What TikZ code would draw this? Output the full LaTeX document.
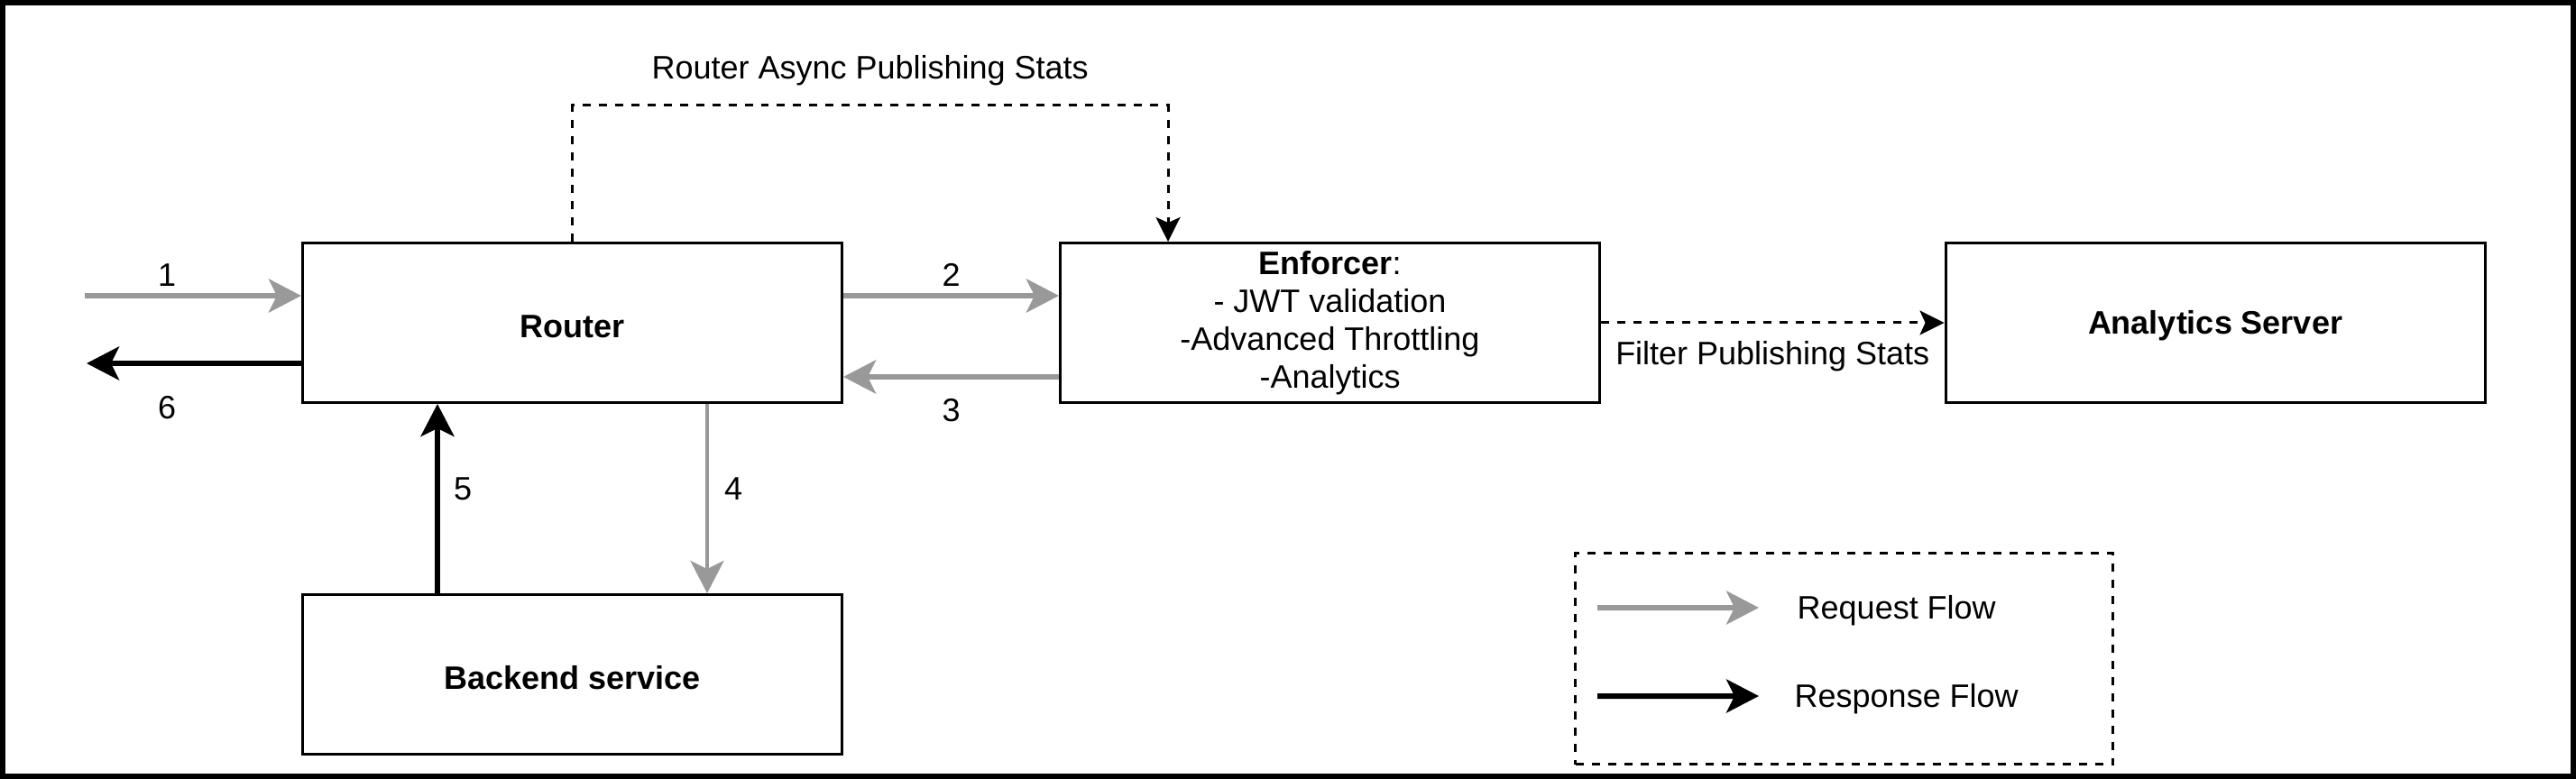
\documentclass[tikz,border=0pt]{standalone}
\usepackage{fontspec}
\setmainfont{Liberation Sans}
\usepackage{tikz}
\usetikzlibrary{arrows.meta,positioning,calc}
\definecolor{reqGray}{HTML}{999999}

\begin{document}
\begin{tikzpicture}[font=\fontsize{10.24}{11.95}\selectfont,
  box/.style={draw, line width=0.03cm, minimum width=5.98cm, minimum height=1.77cm, align=center, inner ysep=0.02cm},
  onebox/.style={box, text height=0.33cm},
  req/.style={reqGray, line width=0.06cm, -{Stealth[length=0.36cm, width=0.37cm, inset=0.09cm]}},
  resp/.style={black, line width=0.06cm, -{Stealth[length=0.36cm, width=0.37cm, inset=0.09cm]}},
  async/.style={line width=0.03cm, dash pattern=on 0.09cm off 0.09cm, -{Stealth[length=0.27cm, width=0.27cm, inset=0.06cm]}},
  legendbox/.style={draw, line width=0.03cm, dash pattern=on 0.09cm off 0.09cm, minimum width=5.96cm, minimum height=2.34cm},
  num/.style={text=black, inner sep=0pt}]
  \useasboundingbox (0,0) rectangle (28.56,-8.64);
  \draw[line width=0.06cm] (0.03,-0.03) rectangle (28.53,-8.61);
  % boxes
  \node[onebox] (router) at (6.345,-3.58) {\textbf{Router}};
  \node[box, right=2.39cm of router] (enforcer) {\textbf{Enforcer}:\\- JWT validation\\-Advanced Throttling\\-Analytics};
  \node[onebox, right=3.805cm of enforcer] (analytics) {\textbf{Analytics Server}};
  \node[onebox, below=2.10cm of router] (backend) {\textbf{Backend service}};
  % client side: 1 in, 6 out
  \coordinate (client1) at (0.94,-3.28);
  \coordinate (client6) at (0.96,-4.03);
  \draw[req] (client1) -- node[num, pos=0.38, yshift=0.23cm] {1} (client1 -| router.west);
  \draw[resp] (client6 -| router.west) -- node[num, pos=0.626, yshift=-0.49cm] {6} (client6);
  % router <-> enforcer: 2, 3
  \draw[req] ($(router.east)+(0,0.30)$) -- node[num, yshift=0.23cm] {2} ($(enforcer.west)+(0,0.30)$);
  \draw[req] ($(enforcer.west)+(0,-0.60)$) -- node[num, yshift=-0.37cm] {3} ($(router.east)+(0,-0.60)$);
  % router <-> backend: 4, 5
  \draw[req, line width=0.04cm] ($(router.south)+(1.495,0)$) -- node[num, pos=0.45, xshift=0.29cm] {4} ($(backend.north)+(1.495,0)$);
  \draw[resp] ($(backend.north)+(-1.495,0)$) -- node[num, pos=0.55, xshift=0.28cm] {5} ($(router.south)+(-1.495,0)$);
  % stats publishing
  \draw[async] (router.north) -- ++(0,1.51) -| node[num, pos=0.25, yshift=0.39cm] {Router Async Publishing Stats} ($(enforcer.north)+(-1.795,0)$);
  \draw[async] (enforcer.east) -- node[num, yshift=-0.37cm] {Filter Publishing Stats} (analytics.west);
  % legend
  \node[legendbox] (legend) at (20.445,-7.305) {};
  \node[anchor=west, inner sep=0pt] (reqlabel) at (19.92,-6.77) {Request Flow};
  \node[anchor=west, inner sep=0pt] (resplabel) at (19.89,-7.75) {Response Flow};
  \draw[req] ($(legend.west)+(0.26,0.565)$) -- ($(reqlabel.west)+(-0.42,0.03)$);
  \draw[resp] ($(legend.west)+(0.26,-0.415)$) -- ($(resplabel.west)+(-0.39,0.03)$);
\end{tikzpicture}
\end{document}
